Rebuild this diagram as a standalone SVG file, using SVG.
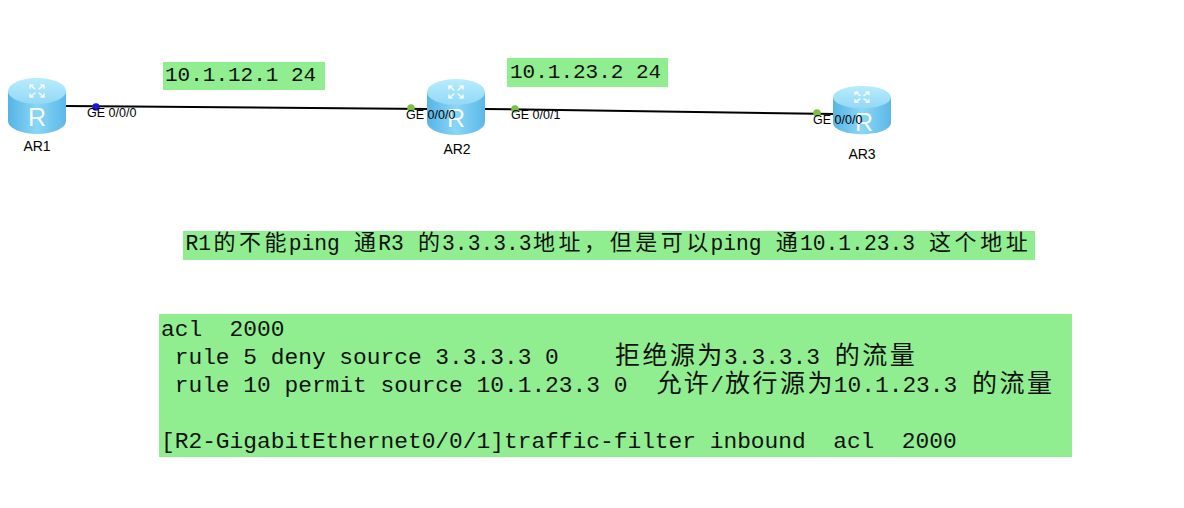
<svg xmlns="http://www.w3.org/2000/svg" xmlns:xlink="http://www.w3.org/1999/xlink" width="1184" height="508" viewBox="0 0 1184 508">
<style>
.bg{fill:#ffffff}
.note{fill:#90ee90}
.mono{font-family:"Liberation Mono","DejaVu Sans Mono",monospace;fill:#111111;white-space:pre}
.cjk{font-family:"Noto Sans CJK SC","Noto Sans",sans-serif;fill:#111111}
.port{font-family:"Liberation Sans",Arial,sans-serif;font-size:12.5px;fill:#000000}
.name{font-family:"Liberation Sans",Arial,sans-serif;font-size:14px;fill:#000000;text-anchor:middle}
.link{stroke:#000000;stroke-width:2;fill:none}
.dotg{fill:#7dc142}
.dotb{fill:#1a1adc}
.rl{font-family:"Liberation Sans",Arial,sans-serif;font-size:25px;fill:#ffffff;fill-opacity:0.92;text-anchor:middle}
.ico{stroke:#ffffff;stroke-width:1.6;fill:none;stroke-opacity:0.85;stroke-linecap:round;stroke-linejoin:round}
</style>
<defs>
<linearGradient id="body" x1="0" y1="0" x2="1" y2="0">
<stop offset="0" stop-color="#56b4e6"/>
<stop offset="0.5" stop-color="#8ad6f6"/>
<stop offset="1" stop-color="#5cb8e8"/>
</linearGradient>
<linearGradient id="top" x1="0" y1="0" x2="0" y2="1">
<stop offset="0" stop-color="#b8ecfc"/>
<stop offset="1" stop-color="#92d8f6"/>
</linearGradient>
<g id="router">
<path d="M0,13 L0,43 A29,13 0 0 0 58,43 L58,13 Z" fill="url(#body)"/>
<ellipse cx="29" cy="13" rx="29" ry="13" fill="url(#top)"/>
<path class="ico" d="M22,7 L27,11 M22,7 L25,7 M22,7 L22,10 M36,7 L31,11 M36,7 L33,7 M36,7 L36,10 M22,19 L27,15 M22,19 L25,19 M22,19 L22,16 M36,19 L31,15 M36,19 L33,19 M36,19 L36,16"/>
</g>
</defs>
<rect class="bg" x="0" y="0" width="1184" height="508"/>

<g id="connectors">
<line class="link" x1="66" y1="106" x2="428" y2="109"/>
<line class="link" x1="484" y1="109" x2="835" y2="114"/>
<circle class="dotb" cx="96" cy="107" r="3.8"/>
<circle class="dotg" cx="411" cy="108" r="3.8"/>
<circle class="dotg" cx="515" cy="109" r="3.8"/>
<circle class="dotg" cx="817" cy="113" r="3.8"/>
</g>

<g id="AR1">
<use xlink:href="#router" href="#router" transform="translate(8,78)"/>
<text class="rl" x="37" y="126">R</text>
<text class="name" x="37" y="151">AR1</text>
<text class="port" x="87" y="117">GE 0/0/0</text>
</g>

<g id="AR2">
<use xlink:href="#router" href="#router" transform="translate(427,79)"/>
<text class="rl" x="456" y="127">R</text>
<text class="name" x="457" y="154">AR2</text>
<text class="port" x="406" y="119">GE 0/0/0</text>
<text class="port" x="511" y="119">GE 0/0/1</text>
</g>

<g id="AR3">
<use xlink:href="#router" href="#router" transform="translate(833,86) scale(1,0.86)"/>
<text class="rl" x="864" y="131">R</text>
<text class="name" x="862" y="159">AR3</text>
<text class="port" x="813" y="124">GE 0/0/0</text>
</g>

<g id="label-r1">
<rect class="note" x="163" y="62" width="162" height="28"/>
<text class="mono" x="165" y="81" font-size="21" xml:space="preserve">10.1.12.1 24</text>
</g>

<g id="label-r2">
<rect class="note" x="507" y="58" width="161" height="29"/>
<text class="mono" x="510" y="78" font-size="21" xml:space="preserve">10.1.23.2 24</text>
</g>

<g id="statement">
<rect class="note" x="183" y="231" width="852" height="29"/>
<text class="mono" font-size="21.3" y="250" xml:space="preserve"><tspan x="185.5">R1</tspan><tspan class="cjk" font-size="22" x="213.5 239.1 264.6">的不能</tspan><tspan x="288.7">ping </tspan><tspan class="cjk" font-size="22" x="354">通</tspan><tspan x="378.2">R3 </tspan><tspan class="cjk" font-size="22" x="418">的</tspan><tspan x="442.1">3.3.3.3</tspan><tspan class="cjk" font-size="22" x="533 558.5 584.1 609.7 635.2 660.8 686.3">地址，但是可以</tspan><tspan x="710.5">ping </tspan><tspan class="cjk" font-size="22" x="775.8">通</tspan><tspan x="800">10.1.23.3 </tspan><tspan class="cjk" font-size="22" x="929.1 954.6 980.2 1005.8">这个地址</tspan></text>
</g>

<g id="config">
<rect class="note" x="159" y="314" width="913" height="143"/>
<text class="mono" font-size="22.87" x="161" y="336" xml:space="preserve">acl  2000</text>
<text class="mono" font-size="22.87" y="364" xml:space="preserve"><tspan x="161"> rule 5 deny source 3.3.3.3 0</tspan><tspan class="cjk" font-size="25" x="615 642.4 669.9 697.3">拒绝源为</tspan><tspan x="724">3.3.3.3</tspan><tspan class="cjk" font-size="25" x="834.8 862.2 889.7">的流量</tspan></text>
<text class="mono" font-size="22.87" y="392" xml:space="preserve"><tspan x="161"> rule 10 permit source 10.1.23.3 0</tspan><tspan class="cjk" font-size="25" x="656.4 683.8">允许</tspan><tspan x="710.3">/</tspan><tspan class="cjk" font-size="25" x="725 752.5 779.9 807.4">放行源为</tspan><tspan x="833.8">10.1.23.3</tspan><tspan class="cjk" font-size="25" x="972 999.5 1026.9">的流量</tspan></text>
<text class="mono" font-size="22.87" x="161" y="448" xml:space="preserve">[R2-GigabitEthernet0/0/1]traffic-filter inbound  acl  2000</text>
</g>
</svg>
